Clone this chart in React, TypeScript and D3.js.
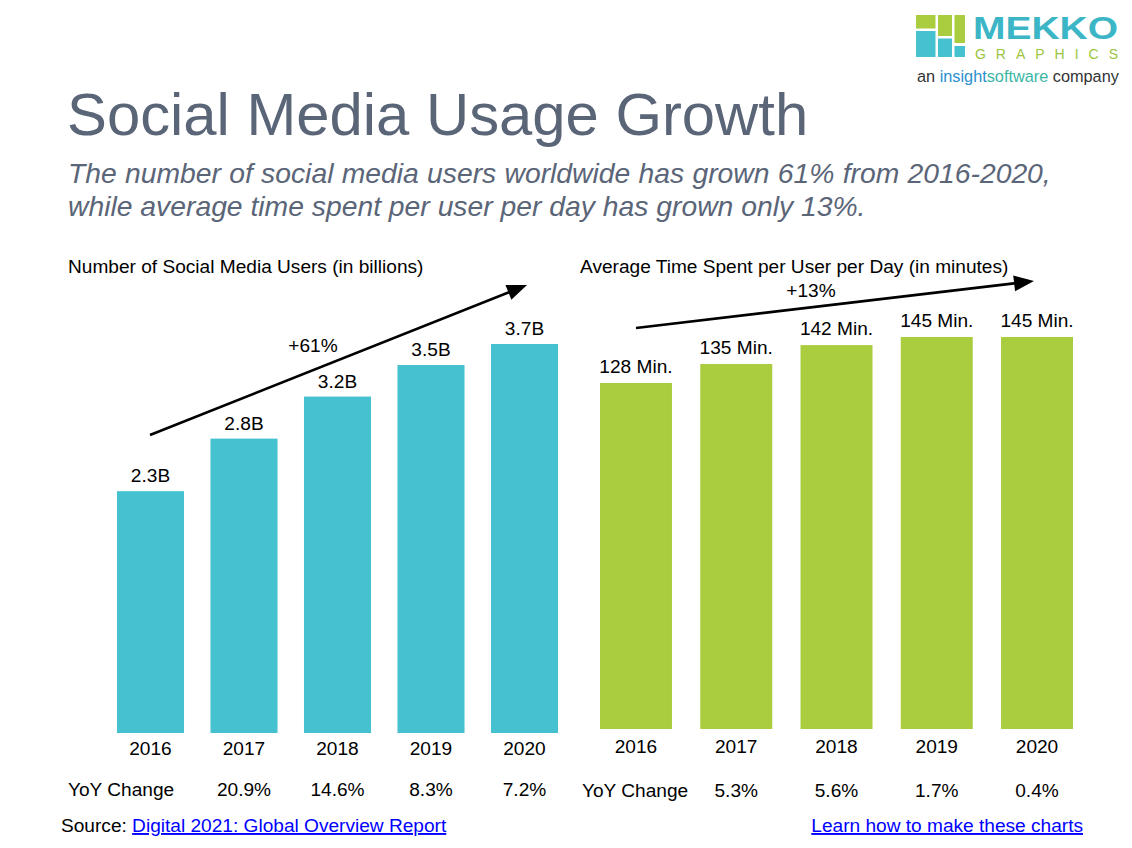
import React from 'react';
import * as d3 from 'd3';

const years = ['2016', '2017', '2018', '2019', '2020'];
const users = [2.3, 2.8, 3.2, 3.5, 3.7];
const usersYoY = ['', '20.9%', '14.6%', '8.3%', '7.2%'];
const minutes = [128, 135, 142, 145, 145];
const minutesYoY = ['', '5.3%', '5.6%', '1.7%', '0.4%'];

const TEAL = '#45c1d0';
const GREEN = '#a9cd3f';
const TITLE = '#5b6578';
const FONT = '"Liberation Sans", Arial, sans-serif';
const FS = 19.1;

export default function App() {
  const xL = d3.scaleBand<string>().domain(years).range([103.75, 571.25]).paddingInner(0.283).paddingOuter(0.1415);
  const yL = d3.scaleLinear().domain([0, 3.7]).range([733, 344]);
  const xR = d3.scaleBand<string>().domain(years).range([585.85, 1087.15]).paddingInner(0.282).paddingOuter(0.141);
  const yR = d3.scaleLinear().domain([0, 145]).range([729, 337]);

  const arrow = (x1: number, y1: number, x2: number, y2: number) => {
    const ang = Math.atan2(y2 - y1, x2 - x1);
    const len = 20, half = 8;
    const bx = x2 - len * Math.cos(ang), by = y2 - len * Math.sin(ang);
    const px = -Math.sin(ang) * half, py = Math.cos(ang) * half;
    return (
      <g>
        <line x1={x1} y1={y1} x2={bx + 2 * Math.cos(ang)} y2={by + 2 * Math.sin(ang)} stroke="#000" strokeWidth={2.6} />
        <path d={`M${x2},${y2}L${bx + px},${by + py}L${bx - px},${by - py}Z`} fill="#000" />
      </g>
    );
  };

  return (
    <svg width={1132} height={848} style={{ position: 'absolute', left: 0, top: 0, background: '#fff' }} fontFamily={FONT}>
      <rect x={0} y={0} width={1132} height={848} fill="#fff" />
      {/* Logo */}
      <g>
        <rect x={916} y={15} width={19.5} height={13.5} fill={GREEN} />
        <rect x={916} y={31} width={19.5} height={26} fill={TEAL} />
        <rect x={938} y={15} width={14} height={21} fill={GREEN} />
        <rect x={938} y={38.5} width={14} height={18.5} fill={TEAL} />
        <rect x={954.5} y={15} width={10.5} height={28} fill={GREEN} />
        <rect x={954.5} y={46} width={10.5} height={11} fill={TEAL} />
        <text x={973} y={39} fontSize={31} fontWeight="bold" fill="#3cb6c6" textLength={145} lengthAdjust="spacingAndGlyphs">MEKKO</text>
        <text x={975} y={58.5} fontSize={14} fill="#9bc53d" textLength={143} lengthAdjust="spacing">GRAPHICS</text>
        <text x={917} y={82} fontSize={16.3} fill="#333">
          an <tspan fill="#2a8fd0">insight</tspan><tspan fill="#3cb6a6">software</tspan> company
        </text>
      </g>

      {/* Title */}
      <text x={67} y={135} fontSize={59.8} fill={TITLE}>Social Media Usage Growth</text>
      <text x={68} y={183} fontSize={28.3} fontStyle="italic" fill={TITLE} wordSpacing={0.4}>The number of social media users worldwide has grown 61% from 2016-2020,</text>
      <text x={68} y={216} fontSize={28.3} fontStyle="italic" fill={TITLE}>while average time spent per user per day has grown only 13%.</text>

      {/* Section headers */}
      <text x={68} y={273} fontSize={FS} fill="#000">Number of Social Media Users (in billions)</text>
      <text x={580} y={273} fontSize={FS} fill="#000">Average Time Spent per User per Day (in minutes)</text>

      {/* Left bars */}
      {years.map((yr, i) => (
        <g key={'l' + yr}>
          <rect x={xL(yr)} y={yL(users[i])} width={xL.bandwidth()} height={yL(0) - yL(users[i])} fill={TEAL} />
          <text x={xL(yr)! + xL.bandwidth() / 2} y={yL(users[i]) - 9} fontSize={FS} textAnchor="middle">{users[i].toFixed(1) + 'B'}</text>
          <text x={xL(yr)! + xL.bandwidth() / 2} y={755} fontSize={FS} textAnchor="middle">{yr}</text>
          {usersYoY[i] && <text x={xL(yr)! + xL.bandwidth() / 2} y={796} fontSize={FS} textAnchor="middle">{usersYoY[i]}</text>}
        </g>
      ))}
      <text x={68} y={796} fontSize={FS}>YoY Change</text>

      {/* Right bars */}
      {years.map((yr, i) => (
        <g key={'r' + yr}>
          <rect x={xR(yr)} y={yR(minutes[i])} width={xR.bandwidth()} height={yR(0) - yR(minutes[i])} fill={GREEN} />
          <text x={xR(yr)! + xR.bandwidth() / 2} y={yR(minutes[i]) - 10} fontSize={FS} textAnchor="middle">{minutes[i] + ' Min.'}</text>
          <text x={xR(yr)! + xR.bandwidth() / 2} y={753} fontSize={FS} textAnchor="middle">{yr}</text>
          {minutesYoY[i] && <text x={xR(yr)! + xR.bandwidth() / 2} y={797} fontSize={FS} textAnchor="middle">{minutesYoY[i]}</text>}
        </g>
      ))}
      <text x={582} y={797} fontSize={FS}>YoY Change</text>

      {/* Arrows */}
      {arrow(150, 435, 527, 285)}
      <text x={313} y={352} fontSize={FS} textAnchor="middle">+61%</text>
      {arrow(636, 328, 1034, 281)}
      <text x={811} y={297} fontSize={FS} textAnchor="middle">+13%</text>

      {/* Footer */}
      <text x={61} y={832} fontSize={FS} fill="#000">Source: <tspan fill="#0000ff" style={{ textDecoration: 'underline' }}>Digital 2021: Global Overview Report</tspan></text>
      <text x={1083} y={832} fontSize={FS} fill="#0000ff" textAnchor="end" style={{ textDecoration: 'underline' }}>Learn how to make these charts</text>
    </svg>
  );
}
